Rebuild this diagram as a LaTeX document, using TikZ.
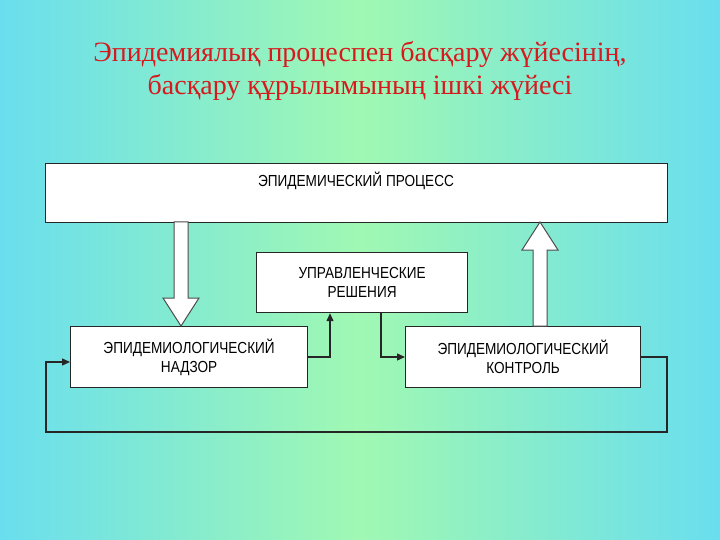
\documentclass[tikz,border=0pt]{standalone}
\usepackage{fontspec}
\setmainfont{Liberation Serif}
\newfontfamily\boxfont{Liberation Sans}[FakeStretch=0.85]
\usetikzlibrary{arrows.meta}
\definecolor{edgec}{RGB}{105,222,238}
\definecolor{midc}{RGB}{160,248,178}
\definecolor{titlec}{RGB}{215,25,30}
\tikzset{
 box/.style={draw=black!85, fill=white, line width=1.2pt, inner sep=0pt, font=\boxfont\fontsize{16}{19}\selectfont, align=center},
 lbl/.style={inner sep=0pt, font=\boxfont\fontsize{16}{19}\selectfont},
 conn/.style={draw=black!85, line width=1.3pt, -{Triangle[length=8pt,width=7pt]}},
 block/.style={draw=black!70, fill=white, line width=1pt}
}
\begin{document}
\begin{tikzpicture}[x=1pt,y=-1pt]
\shade[left color=edgec,right color=midc] (0,0) rectangle (360,540);
\shade[left color=midc,right color=edgec] (360,0) rectangle (720,540);
\useasboundingbox (0,0) rectangle (720,540);
\node[text=titlec, font=\fontsize{28}{33}\selectfont, align=center] (title) at (360,71) {Эпидемиялық процеспен басқару жүйесінің,\\басқару құрылымының ішкі жүйесі};
\node[box, minimum width=622pt, minimum height=59pt, anchor=north west] (proc) at (45,163) {};
\node[lbl] (proct) at (356,181) {ЭПИДЕМИЧЕСКИЙ ПРОЦЕСС};
\node[box, minimum width=211pt, minimum height=60pt, anchor=north west] (dec) at (256,252) {УПРАВЛЕНЧЕСКИЕ\\РЕШЕНИЯ};
\node[box, minimum width=237pt, minimum height=61pt, anchor=north west] (sur) at (70,326) {ЭПИДЕМИОЛОГИЧЕСКИЙ\\НАДЗОР};
\node[box, minimum width=235pt, minimum height=61pt, anchor=north west] (con) at (405,326) {ЭПИДЕМИОЛОГИЧЕСКИЙ\\КОНТРОЛЬ};
% hollow block arrows
\draw[block] (174,222) -- (188,222) -- (188,298) -- (199,298) -- (181,326) -- (163,298) -- (174,298) -- cycle;
\draw[block] (533,326) -- (547,326) -- (547,250) -- (558,250) -- (540,222) -- (522,250) -- (533,250) -- cycle;
% connectors
\coordinate (a1) at (330,357);
\coordinate (b1) at (381,357);
\draw[conn] (sur.east |- a1) -- (a1) -- (dec.south -| a1);
\draw[conn] (dec.south -| b1) -- (b1) -- (con.west |- b1);
\coordinate (l1) at (667,357);
\coordinate (l2) at (667,432);
\coordinate (l3) at (46,432);
\coordinate (l4) at (46,362);
\draw[conn] (con.east |- l1) -- (l1) -- (l2) -- (l3) -- (l4) -- (sur.west |- l4);
\end{tikzpicture}
\end{document}
